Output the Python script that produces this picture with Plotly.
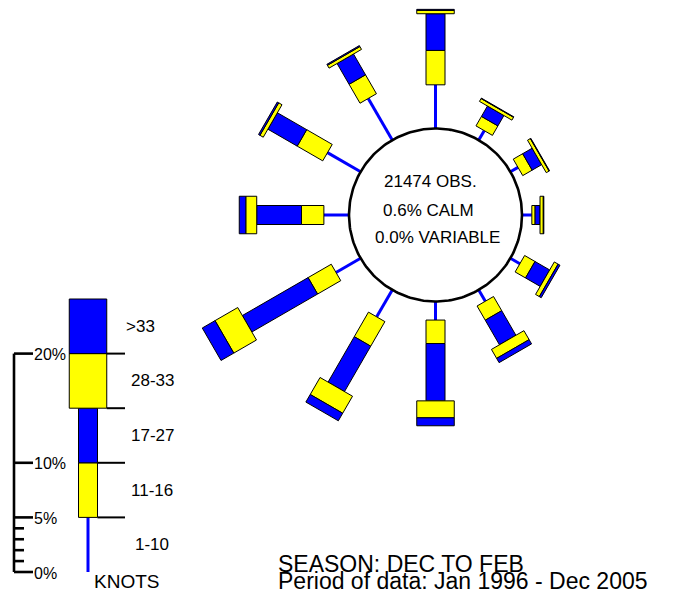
import numpy as np
import plotly.graph_objects as go

# ---------------- data ----------------
directions = ["N", "NNE", "ENE", "E", "ESE", "SSE", "S", "SSW", "WSW", "W", "WNW", "NNW"]
direction_deg = [0, 30, 60, 90, 120, 150, 180, 210, 240, 270, 300, 330]
speed_bins = ["1-10", "11-16", "17-27", "28-33", ">33"]

pct_1_10 = [4.0, 1.0, 0.8, 0.9, 1.0, 1.2, 1.7, 2.85, 2.6, 2.3, 3.5, 4.4]
pct_11_16 = [3.15, 1.0, 1.0, 0.3, 1.1, 1.5, 2.15, 2.6, 2.45, 2.05, 2.7, 2.0]
pct_17_27 = [3.36, 1.1, 1.0, 0.45, 1.55, 2.6, 5.25, 4.8, 6.95, 4.1, 3.1, 2.2]
pct_28_33 = [0.3, 0.3, 0.3, 0.3, 0.4, 0.95, 1.55, 1.8, 2.4, 1.0, 0.35, 0.3]
pct_gt_33 = [0.1, 0.05, 0.05, 0.05, 0.2, 0.45, 0.73, 0.8, 1.35, 0.6, 0.15, 0.1]

legend_pct = [5, 5, 5, 5, 5]
scale_minor = [1, 2, 3, 4]
scale_major = [0, 5, 10, 20]
scale_labels = ["0%", "5%", "10%", "20%"]

center_lines = ["21474 OBS.", "0.6% CALM", "0.0% VARIABLE"]
footer_lines = ["SEASON: DEC TO FEB", "Period of data: Jan 1996 - Dec 2005"]

# ---------------- geometry / style ----------------
W, H = 675, 594
PX = 10.92            # pixels per percent
CX, CY = 435.5, 215.0  # rose centre
R0 = 86.5             # circle radius (px)
NARROW, WIDE = 19.0, 37.5
BLUE, YELLOW = "#0000FF", "#FFFF00"
bin_style = [None, (YELLOW, NARROW), (BLUE, NARROW), (YELLOW, WIDE), (BLUE, WIDE)]

series = [pct_1_10, pct_11_16, pct_17_27, pct_28_33, pct_gt_33]

fig = go.Figure()

# polygons per bin
poly = {b: ([], []) for b in range(1, 5)}
line_x, line_y = [], []

for i, d in enumerate(direction_deg):
    a = np.radians(d)
    u = np.array([np.sin(a), -np.cos(a)])
    v = np.array([np.cos(a), np.sin(a)])
    c = np.array([CX, CY])
    r = R0
    for b in range(5):
        L = series[b][i] * PX
        r1 = r + L
        if b == 0:
            p0 = c + u * r
            p1 = c + u * r1
            line_x += [p0[0], p1[0], None]
            line_y += [p0[1], p1[1], None]
        else:
            col, w = bin_style[b]
            hw = w / 2
            pts = [c + u * r + v * hw, c + u * r1 + v * hw,
                   c + u * r1 - v * hw, c + u * r - v * hw, c + u * r + v * hw]
            poly[b][0].extend([p[0] for p in pts] + [None])
            poly[b][1].extend([p[1] for p in pts] + [None])
        r = r1

# legend column
LX = 88.0
Y0 = 572.0
def ly(p):
    return Y0 - p * PX

cum = 0
for b in range(5):
    p0, p1 = cum, cum + legend_pct[b]
    if b == 0:
        line_x += [LX, LX, None]
        line_y += [ly(p0), ly(p1), None]
    else:
        col, w = bin_style[b]
        hw = w / 2
        xs = [LX - hw, LX + hw, LX + hw, LX - hw, LX - hw, None]
        ys = [ly(p0), ly(p0), ly(p1), ly(p1), ly(p0), None]
        poly[b][0].extend(xs)
        poly[b][1].extend(ys)
    cum = p1

# blue 1-10 lines
fig.add_trace(go.Scatter(x=line_x, y=line_y, mode="lines",
                         line=dict(color=BLUE, width=3), hoverinfo="skip"))

# circle
th = np.linspace(0, 2 * np.pi, 240)
fig.add_trace(go.Scatter(x=CX + R0 * np.cos(th), y=CY + R0 * np.sin(th),
                         mode="lines", fill="toself", fillcolor="white",
                         line=dict(color="black", width=2.6), hoverinfo="skip"))

for b in range(1, 5):
    col, w = bin_style[b]
    fig.add_trace(go.Scatter(x=poly[b][0], y=poly[b][1], mode="lines",
                             fill="toself", fillcolor=col,
                             line=dict(color="black", width=1), hoverinfo="skip"))

# legend right-hand ticks (boundaries 5,10,15,20 %)
tick_x, tick_y = [], []
cum = 0
for b in range(4):
    cum += legend_pct[b]
    wid = NARROW if b < 2 else WIDE
    tick_x += [LX + wid / 2, 125, None]
    tick_y += [ly(cum), ly(cum), None]
fig.add_trace(go.Scatter(x=tick_x, y=tick_y, mode="lines",
                         line=dict(color="black", width=2), hoverinfo="skip"))

# percent scale
AX = 14
sx, sy = [AX, AX, None], [ly(0), ly(max(scale_major)), None]
for p in scale_major:
    sx += [AX, 33, None]
    sy += [ly(p), ly(p), None]
for p in scale_minor:
    sx += [AX, 24, None]
    sy += [ly(p), ly(p), None]
fig.add_trace(go.Scatter(x=sx, y=sy, mode="lines",
                         line=dict(color="black", width=2.6), hoverinfo="skip"))

FONT = "Liberation Sans, Arial, sans-serif"
ann = []
for p, lab in zip(scale_major, scale_labels):
    ann.append(dict(x=32, y=ly(p) + 1, text=lab, xanchor="left", yanchor="middle",
                    font=dict(size=16, color="black")))

# legend bin labels
cum = 0
for b, lab in enumerate(speed_bins):
    mid = cum + legend_pct[b] / 2
    cum += legend_pct[b]
    xc = 140 if lab == ">33" else 152
    ann.append(dict(x=xc, y=ly(mid), text=lab, xanchor="center", yanchor="middle",
                    font=dict(size=17, color="black")))
ann.append(dict(x=92, y=581, text="KNOTS", xanchor="left", yanchor="middle",
                font=dict(size=19, color="black")))

# centre text
centre_dx = [-5.5, -7.5, 1.5]
centre_dy = [-34, -5, 22]
for t, dx, dy in zip(center_lines, centre_dx, centre_dy):
    ann.append(dict(x=CX + dx, y=CY + dy, text=t, xanchor="center", yanchor="middle",
                    font=dict(size=17, color="black")))

# footer
ann.append(dict(x=276, y=564, text=footer_lines[0], xanchor="left", yanchor="middle",
                font=dict(size=23, color="black")))
ann.append(dict(x=276, y=581, text=footer_lines[1], xanchor="left", yanchor="middle",
                font=dict(size=23, color="black")))

for a in ann:
    a.update(showarrow=False, xref="x", yref="y")

fig.update_layout(
    width=W, height=H, margin=dict(l=0, r=0, t=0, b=0),
    paper_bgcolor="white", plot_bgcolor="white",
    showlegend=False, hovermode=False,
    font=dict(family=FONT, color="black"),
    xaxis=dict(range=[0, W], visible=False, fixedrange=True),
    yaxis=dict(range=[H, 0], visible=False, fixedrange=True),
    annotations=ann,
)

fig.write_html(
    "out.html",
    config={"displayModeBar": False},
    post_script="document.body.style.margin='0px';document.body.style.overflow='hidden';",
)
